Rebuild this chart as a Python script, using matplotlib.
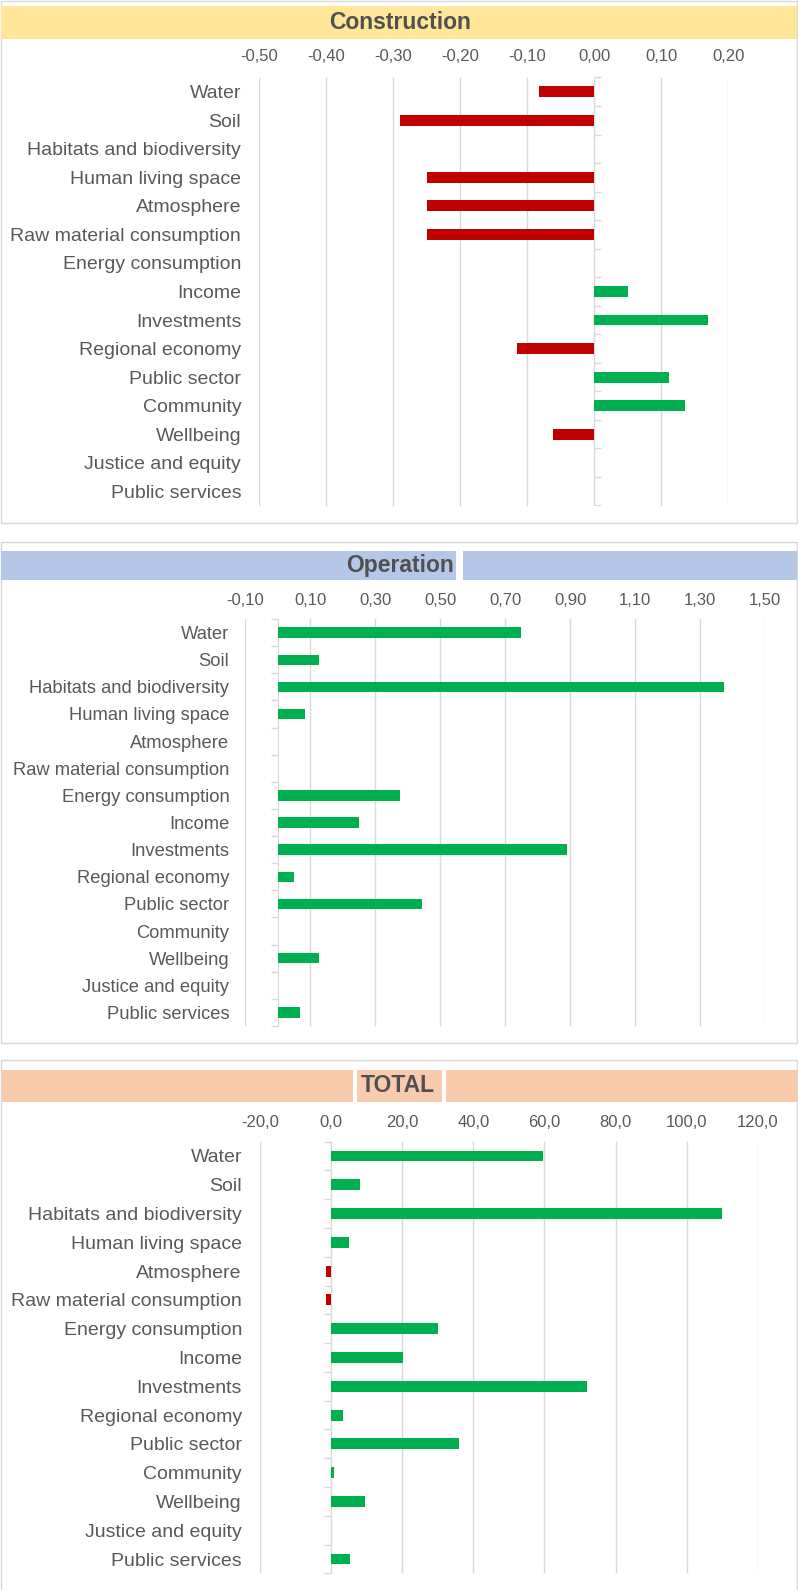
import matplotlib
matplotlib.use("Agg")
import matplotlib.pyplot as plt
from matplotlib.patches import Rectangle
from matplotlib.ticker import FuncFormatter

plt.rcParams['font.family'] = ['Liberation Sans', 'DejaVu Sans']

categories = ["Water", "Soil", "Habitats and biodiversity", "Human living space",
              "Atmosphere", "Raw material consumption", "Energy consumption",
              "Income", "Investments", "Regional economy", "Public sector",
              "Community", "Wellbeing", "Justice and equity", "Public services"]

construction = [-0.083, -0.29, 0.0, -0.25, -0.25, -0.25, 0.0, 0.05, 0.169,
                -0.116, 0.112, 0.135, -0.062, 0.0, 0.0]
operation = [0.749, 0.127, 1.374, 0.084, 0.0, 0.0, 0.375, 0.249, 0.889,
             0.05, 0.444, 0.0, 0.127, 0.0, 0.068]
total = [59.5, 8.15, 110.0, 5.15, -1.5, -1.5, 30.0, 20.3, 72.0,
         3.3, 36.1, 0.75, 9.6, 0.0, 5.4]

construction_ticks = [-0.50, -0.40, -0.30, -0.20, -0.10, 0.00, 0.10, 0.20]
operation_ticks = [-0.10, 0.10, 0.30, 0.50, 0.70, 0.90, 1.10, 1.30, 1.50]
total_ticks = [-20.0, 0.0, 20.0, 40.0, 60.0, 80.0, 100.0, 120.0]

titles = ["Construction", "Operation", "TOTAL"]

W, H = 798, 1590
fig = plt.figure(figsize=(W / 100, H / 100), dpi=100)

RED = "#C00000"
GREEN = "#00B050"
GRID = "#D9D9D9"
TXT = "#595959"


def rect(x0, y0, x1, y1, **kw):
    fig.patches.append(Rectangle((x0 / W, 1 - y1 / H), (x1 - x0) / W, (y1 - y0) / H,
                                 transform=fig.transFigure, **kw))


def panel(title, values, ticks, decimals, panel_box, bar_box, bar_color, gaps,
          ax_box, ylabelpad, title_x, label_size, xpad):
    px0, py0, px1, py1 = panel_box
    rect(px0, py0, px1, py1, fill=False, edgecolor=GRID, lw=1.0, zorder=1)
    bx0, by0, bx1, by1 = bar_box
    rect(bx0, by0, bx1, by1, facecolor=bar_color, edgecolor='none', zorder=2)
    for g0, g1 in gaps:
        rect(g0, by0, g1, by1, facecolor='white', edgecolor='none', zorder=3)
    fig.text(title_x / W, 1 - ((by0 + by1) / 2) / H, title, ha='center', va='center',
             fontsize=16.5, fontweight='bold', color="#505050", zorder=5)

    l, t, r, b = ax_box
    ax = fig.add_axes([l / W, 1 - b / H, (r - l) / W, (b - t) / H])
    y = list(range(len(categories)))
    colors = [RED if v < 0 else GREEN for v in values]
    ax.barh(y, values, height=0.38, color=colors, zorder=3)
    xmin, xmax = ticks[0], ticks[-1]
    ax.set_xlim(xmin, xmax)
    ax.set_ylim(len(categories) - 0.5, -0.5)
    ax.set_xticks(ticks)
    ax.xaxis.set_major_formatter(FuncFormatter(
        lambda v, p: f"{v:.{decimals}f}".replace('.', ',').replace('-0,00', '0,00')))
    ax.xaxis.tick_top()
    ax.tick_params(axis='x', length=0, pad=xpad, labelsize=12, labelcolor=TXT)
    ax.set_yticks(y)
    ax.set_yticklabels(categories)
    ax.tick_params(axis='y', length=0, pad=ylabelpad, labelsize=label_size, labelcolor=TXT)
    ax.grid(axis='x', color=GRID, lw=1.0)
    ax.set_axisbelow(True)
    for s in ax.spines.values():
        s.set_visible(False)
    ax.patch.set_alpha(0)

    loc = (0 - xmin) / (xmax - xmin)
    sec = ax.secondary_yaxis(loc)
    sec.set_yticks([i - 0.5 for i in range(len(categories) + 1)])
    sec.set_yticklabels([])
    sec.tick_params(length=5, width=1, color=GRID)
    for s in sec.spines.values():
        s.set_color(GRID)
    return ax


panel(titles[0], construction, construction_ticks, 2,
      (1, 1, 796.5, 523), (1, 6, 797, 39), "#FFE699", [],
      (259.3, 77.5, 728.3, 505.5), 13, 400, 14, 10)

panel(titles[1], operation, operation_ticks, 2,
      (1, 542, 796.5, 1043), (1, 551, 797, 580), "#B4C7E7", [(456, 463)],
      (245.3, 619, 765.3, 1026), 11.5, 400, 13.2, 8)

panel(titles[2], total, total_ticks, 1,
      (1, 1060, 796.5, 1600), (1.5, 1070, 797, 1102), "#F8CBAD", [(353, 357), (442, 446)],
      (260, 1141.6, 757.7, 1573.4), 13, 398, 14, 8)

fig.savefig("out.png", dpi=100, facecolor='white')
